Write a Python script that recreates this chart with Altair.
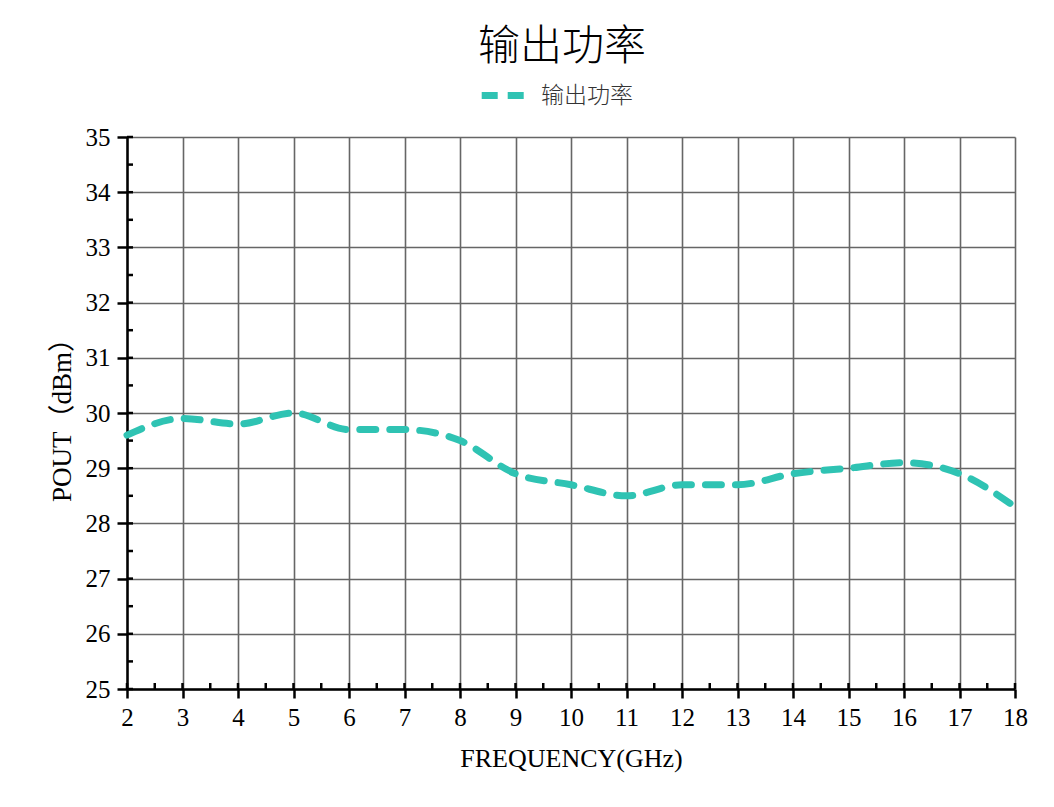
import altair as alt
import pandas as pd

freq = [2, 3, 4, 5, 6, 7, 8, 9, 10, 11, 12, 13, 14, 15, 16, 17, 18]
pout = [29.6, 29.9, 29.8, 30.0, 29.7, 29.7, 29.5, 28.9, 28.7, 28.5, 28.7, 28.7, 28.9, 29.0, 29.1, 28.9, 28.3]
series_name = "输出功率"
x_tick_values = [2, 3, 4, 5, 6, 7, 8, 9, 10, 11, 12, 13, 14, 15, 16, 17, 18]
y_tick_values = [25, 26, 27, 28, 29, 30, 31, 32, 33, 34, 35]
x_minor = [v + 0.5 for v in x_tick_values[:-1]]
y_minor = [v + 0.5 for v in y_tick_values[:-1]]

W, H = 888, 552
SERIF = "Liberation Serif, Times New Roman, Noto Sans CJK SC"
TEAL = "#2fc3b3"

df = pd.DataFrame({"f": freq, "p": pout, "s": [series_name] * len(freq)})
xt = pd.DataFrame({"f": x_tick_values + x_minor})
yt = pd.DataFrame({"p": y_tick_values + y_minor})

xscale = alt.Scale(domain=[2, 18], nice=False, zero=False)
yscale = alt.Scale(domain=[25, 35], nice=False, zero=False)

xaxis = alt.Axis(values=x_tick_values, title="FREQUENCY(GHz)", tickSize=9, tickWidth=2.5,
                 tickColor="black", domainColor="black", domainWidth=2.5,
                 grid=True, gridColor="#666666", gridWidth=1.6,
                 labelFont=SERIF, labelFontSize=25, labelColor="black", labelPadding=7,
                 titleFont=SERIF, titleFontSize=26, titleFontWeight="normal",
                 titleColor="black", titlePadding=15, labelFlush=False)
yaxis = alt.Axis(values=y_tick_values, title="POUT（dBm）", tickSize=10, tickWidth=2.5,
                 tickColor="black", domainColor="black", domainWidth=2.5,
                 grid=True, gridColor="#666666", gridWidth=1.6,
                 labelFont=SERIF, labelFontSize=25, labelColor="black", labelPadding=7,
                 titleFont=SERIF, titleFontSize=27, titleFontWeight="normal",
                 titleColor="black", titlePadding=9, labelFlush=False)

line = alt.Chart(df).mark_line(
    strokeWidth=7, strokeDash=[16, 14], strokeCap="round", interpolate="monotone"
).encode(
    x=alt.X("f:Q", scale=xscale, axis=xaxis),
    y=alt.Y("p:Q", scale=yscale, axis=yaxis),
    color=alt.Color("s:N", scale=alt.Scale(range=[TEAL]),
                    legend=alt.Legend(title=None, orient="none", legendX=351, legendY=-67,
                                      symbolType="stroke", symbolSize=1900,
                                      symbolStrokeWidth=7, symbolDash=[16, 10],
                                      labelFont="Noto Sans CJK SC", labelFontSize=23,
                                      labelFontWeight=300,
                                      labelColor="#333333", labelOffset=12, padding=0)),
)

xin = alt.Chart(xt).mark_rule(color="black", strokeWidth=2.5).encode(
    x=alt.X("f:Q", scale=xscale, axis=xaxis),
    y=alt.value(H), y2=alt.value(H - 6),
)
yin = alt.Chart(yt).mark_rule(color="black", strokeWidth=2.5).encode(
    y=alt.Y("p:Q", scale=yscale, axis=yaxis),
    x=alt.value(0), x2=alt.value(6),
)

chart = alt.layer(line, xin, yin).properties(
    width=W, height=H,
    title=alt.TitleParams(series_name, fontSize=42, font="Noto Sans CJK SC",
                          fontWeight=300, color="black", anchor="middle",
                          offset=1, dx=-9),
    autosize=alt.AutoSizeParams(type="none"),
    padding={"left": 119, "top": 129, "right": 20, "bottom": 100},
    background="white",
).configure_view(stroke="transparent")

chart.save("out.html", embed_options={"renderer": "svg", "actions": False})
